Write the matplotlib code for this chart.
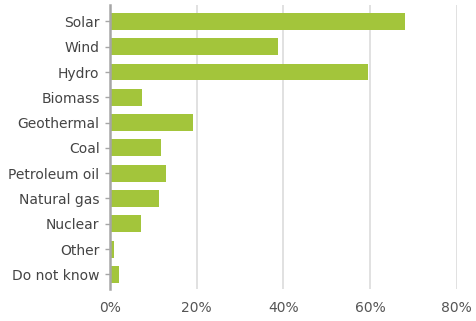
import matplotlib
matplotlib.use("Agg")
import matplotlib.pyplot as plt
import numpy as np

categories = ["Solar", "Wind", "Hydro", "Biomass", "Geothermal", "Coal",
              "Petroleum oil", "Natural gas", "Nuclear", "Other", "Do not know"]
shares = [68.1, 38.8, 59.5, 7.4, 19.2, 11.8, 12.9, 11.3, 7.2, 0.9, 2.1]
x_ticks = [0, 20, 40, 60, 80]
x_tick_labels = ["0%", "20%", "40%", "60%", "80%"]

plt.rcParams["font.family"] = ["DejaVu Sans"]

fig = plt.figure(figsize=(4.77, 3.21), dpi=100)
ax = fig.add_axes([110 / 477, (321 - 289) / 321, (456.7 - 110) / 477, (289 - 5) / 321])

y = np.arange(len(categories))
ax.barh(y, shares, height=0.67, color="#a3c53b", zorder=3)

ax.set_xlim(0, 80)
ax.set_ylim(len(categories) - 1 + 0.58, -0.65)
ax.set_yticks(y)
ax.set_yticklabels(categories)
ax.set_xticks(x_ticks)
ax.set_xticklabels(x_tick_labels)

ax.grid(axis="x", color="#dcdcdc", linewidth=1.2, zorder=0)
ax.grid(axis="y", visible=False)
for side in ["top", "right", "bottom"]:
    ax.spines[side].set_visible(False)
ax.spines["left"].set_color("#a6a6a6")
ax.spines["left"].set_linewidth(1.8)
ax.spines["left"].set_zorder(4)

ax.tick_params(axis="y", length=3.5, width=1, color="#a6a6a6", pad=4,
               labelsize=10, labelcolor="#444444")
ax.tick_params(axis="x", length=0, pad=9, labelsize=10, labelcolor="#555555")

fig.savefig("out.png", dpi=100)
